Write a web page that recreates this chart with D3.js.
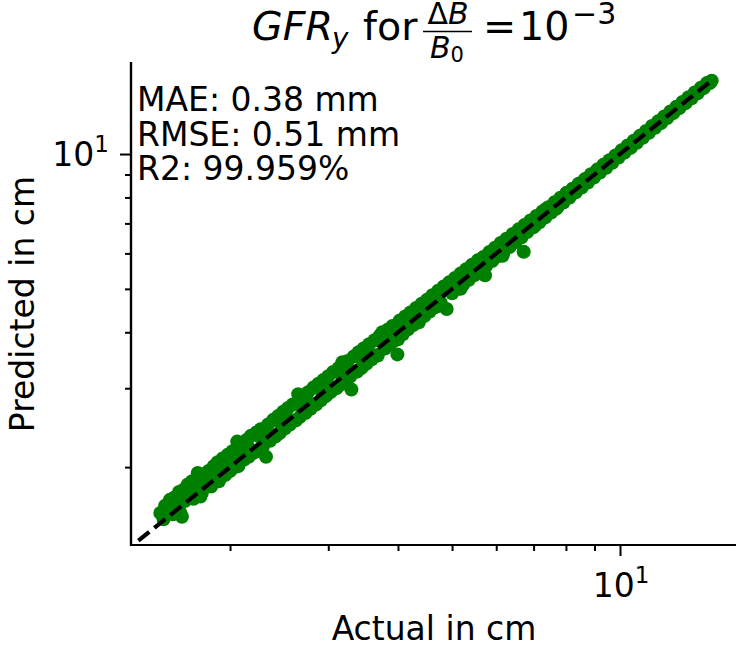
<!DOCTYPE html>
<html>
<head>
<meta charset="utf-8">
<script src="https://cdn.jsdelivr.net/npm/d3@7"></script>
<style>
  body { margin: 0; background: #fff; }
  svg { display: block; }
  text { font-family: "DejaVu Sans", sans-serif; fill: #000; }
</style>
</head>
<body>
<svg id="chart" width="736" height="646"></svg>
<script>
// Measured vs. predicted values (cm)
const actual = [
  1.50, 1.52, 1.53, 1.55, 1.56, 1.58, 1.59, 1.61, 1.62, 1.64, 1.65, 1.66, 1.68, 1.70, 1.71, 1.73,
  1.75, 1.76, 1.78, 1.80, 1.81, 1.83, 1.85, 1.87, 1.89, 1.90, 1.92, 1.94, 1.96, 1.98, 2.00, 2.02,
  2.04, 2.06, 2.08, 2.10, 2.12, 2.14, 2.16, 2.18, 2.20, 2.23, 2.25, 2.27, 2.29, 2.32, 2.34, 2.36,
  2.39, 2.41, 2.44, 2.46, 2.49, 2.51, 2.54, 2.56, 2.59, 2.62, 2.65, 2.67, 2.70, 2.73, 2.76, 2.79,
  2.82, 2.85, 2.88, 2.91, 2.94, 2.97, 3.00, 3.03, 3.06, 3.10, 3.13, 3.16, 3.18, 3.21, 3.25, 3.28,
  3.30, 3.33, 3.37, 3.40, 3.44, 3.47, 3.51, 3.55, 3.59, 3.63, 3.67, 3.71, 3.75, 3.79, 3.83, 3.87,
  3.91, 3.95, 3.99, 4.03, 4.08, 4.12, 4.17, 4.21, 4.26, 4.31, 4.36, 4.41, 4.46, 4.51, 4.56, 4.61,
  4.66, 4.72, 4.77, 4.83, 4.89, 4.94, 5.00, 5.06, 5.12, 5.18, 5.24, 5.30, 5.36, 5.43, 5.49, 5.56,
  5.62, 5.69, 5.73, 5.76, 5.83, 5.90, 5.97, 6.04, 6.11, 6.19, 6.26, 6.34, 6.42, 6.50, 6.58, 6.66,
  6.72, 6.74, 6.82, 6.91, 6.99, 7.08, 7.17, 7.26, 7.35, 7.44, 7.53, 7.63, 7.72, 7.82, 7.92, 8.02,
  8.12, 8.22, 8.33, 8.43, 8.54, 8.65, 8.76, 8.87, 8.98, 9.10, 9.21, 9.33, 9.45, 9.57, 9.69, 9.81,
  9.94, 10.06, 10.19, 10.32, 10.45, 10.58, 10.72, 10.85, 10.99, 11.13, 11.27, 11.41, 11.56, 11.70,
  11.85, 12.00, 12.15, 12.31, 12.46, 12.62, 12.78, 12.94, 13.11, 13.27, 13.44, 13.61, 13.78, 13.96,
  14.13, 14.31, 14.49, 14.60,
  1.54, 1.60, 1.67, 1.72, 1.79, 1.86, 1.93, 2.01, 2.09, 2.17, 2.26, 2.35, 2.45, 2.55, 2.66, 2.77,
  2.89, 3.01, 3.14, 3.27, 3.41, 3.56, 3.71, 3.87, 4.04, 4.22, 4.40, 4.59, 4.79, 5.00, 5.22, 5.45,
  5.69, 5.94, 6.20, 6.47, 6.75, 7.05, 7.36, 7.68, 8.02,
  1.57, 1.63, 1.69, 1.77, 1.84, 1.91, 1.99, 2.07, 2.15, 2.24, 2.33, 2.43, 2.52, 2.63, 2.74, 2.86,
  2.98, 3.11, 3.24, 3.38, 3.53, 3.68, 3.84, 4.00, 4.18, 4.36, 4.55, 4.75, 4.96, 5.18, 5.41, 5.65,
  5.90, 6.16, 6.43
];
const predicted = [
  1.58, 1.53, 1.64, 1.59, 1.69, 1.57, 1.71, 1.65, 1.76, 1.55, 1.78, 1.68, 1.83, 1.72, 1.86, 1.76,
  1.94, 1.87, 1.75, 1.93, 1.82, 1.96, 1.81, 2.01, 1.88, 2.05, 1.89, 2.09, 1.92, 2.13, 1.96, 2.17,
  2.00, 2.28, 2.06, 2.25, 2.08, 2.30, 2.11, 2.35, 2.15, 2.39, 2.19, 2.43, 2.22, 2.11, 2.49, 2.29,
  2.55, 2.34, 2.60, 2.39, 2.66, 2.44, 2.71, 2.49, 2.76, 2.54, 2.91, 2.59, 2.88, 2.64, 2.94, 2.70,
  3.01, 2.76, 3.07, 2.82, 3.13, 2.88, 3.19, 2.94, 3.26, 3.00, 3.33, 3.06, 3.43, 3.12, 3.45, 3.18,
  2.98, 3.53, 3.27, 3.61, 3.33, 3.68, 3.40, 3.76, 3.48, 3.84, 3.56, 3.93, 4.00, 3.68, 4.05, 3.76,
  4.13, 3.84, 3.57, 4.25, 3.96, 4.34, 4.06, 4.43, 4.15, 4.53, 4.25, 4.63, 4.35, 4.73, 4.45, 4.84,
  4.55, 4.95, 4.66, 5.06, 4.51, 5.17, 4.89, 5.29, 5.00, 5.41, 5.12, 5.53, 5.24, 5.66, 5.37, 5.79,
  5.50, 5.89, 5.36, 5.64, 6.04, 5.77, 6.18, 5.91, 6.33, 6.05, 6.47, 6.20, 6.63, 6.36, 6.79, 6.52,
  6.05, 6.94, 6.70, 7.11, 6.86, 7.27, 7.04, 7.44, 7.22, 7.61, 7.40, 7.80, 7.59, 7.99, 7.79, 8.19,
  8.00, 8.37, 8.21, 8.58, 8.42, 8.79, 8.64, 9.01, 8.86, 9.23, 9.09, 9.46, 9.32, 9.69, 9.56, 9.93,
  9.82, 10.19, 10.07, 10.45, 10.32, 10.71, 10.60, 10.98, 10.87, 11.26, 11.15, 11.55, 11.44, 11.83,
  11.73, 12.13, 12.03, 12.44, 12.34, 12.75, 12.66, 13.07, 12.99, 13.39, 13.32, 13.72, 13.66, 14.06,
  14.03, 14.40, 14.40, 14.58,
  1.59, 1.58, 1.73, 1.70, 1.86, 1.84, 2.00, 1.99, 2.17, 2.14, 2.34, 2.32, 2.53, 2.52, 2.76, 2.74,
  2.99, 2.97, 3.25, 3.23, 3.53, 3.51, 3.84, 3.81, 4.17, 4.16, 4.55, 4.53, 4.94, 4.93, 5.38, 5.37,
  5.86, 5.85, 6.37, 6.36, 6.92, 6.93, 7.53, 7.55, 8.18,
  1.66, 1.58, 1.77, 1.72, 1.92, 1.86, 2.06, 2.01, 2.23, 2.17, 2.41, 2.36, 2.60, 2.55, 2.82, 2.77,
  3.07, 3.01, 3.33, 3.27, 3.61, 3.55, 3.92, 3.86, 4.26, 4.21, 4.62, 4.59, 5.01, 5.00, 5.44, 5.45,
  5.90, 5.93, 6.38
];
// Identity reference line (y = x)
const refLine = [1.37, 14.5];
// Axis ticks
const majorTicks = [10];
const minorTicks = [2, 3, 4, 5, 6, 7, 8, 9];
const tickBase = "10";
const tickExp = "1";
// Text
const xLabel = "Actual in cm";
const yLabel = "Predicted in cm";
const stats = ["MAE: 0.38 mm", "RMSE: 0.51 mm", "R2: 99.959%"];

const svg = d3.select("#chart");
const plot = { left: 131, right: 736, top: 62, bottom: 545 };
const FS = 33;        // label font size
const TFS = 39.6;     // title font size

const x = d3.scaleLog().domain([1.329, 16.14]).range([plot.left, plot.right]);
const y = d3.scaleLog().domain([1.340, 16.05]).range([plot.bottom, plot.top]);

function txt(parent, px, py, str, size, opts = {}) {
  const t = parent.append("text")
    .attr("x", px).attr("y", py)
    .attr("font-size", size)
    .attr("text-anchor", opts.anchor || "start");
  if (opts.italic) t.attr("font-style", "italic");
  if (str) t.text(str);
  return t;
}

// Points
const pts = actual.map((a, i) => [a, predicted[i]]);
svg.append("g").selectAll("circle").data(pts).join("circle")
  .attr("cx", d => x(d[0]))
  .attr("cy", d => y(d[1]))
  .attr("r", 7)
  .attr("fill", "#008000");

// Dashed identity line
svg.append("line")
  .attr("x1", x(refLine[0])).attr("y1", y(refLine[0]))
  .attr("x2", x(refLine[1])).attr("y2", y(refLine[1]))
  .attr("stroke", "#000").attr("stroke-width", 4.2)
  .attr("stroke-dasharray", "14,6.5");

// Axes (left and bottom spines only)
function styleAxis(g) {
  g.selectAll("text").remove();
  g.select(".domain").attr("stroke", "#000").attr("stroke-width", 2.2);
  g.selectAll(".tick line").attr("stroke", "#000").attr("stroke-width", 2);
}
const gx = svg.append("g").attr("transform", `translate(0,${plot.bottom})`);
gx.append("g").call(d3.axisBottom(x).tickValues(minorTicks).tickSize(6).tickSizeOuter(0)).call(styleAxis);
gx.append("g").call(d3.axisBottom(x).tickValues(majorTicks).tickSize(11).tickSizeOuter(0)).call(styleAxis);
const gy = svg.append("g").attr("transform", `translate(${plot.left},0)`);
gy.append("g").call(d3.axisLeft(y).tickValues(minorTicks).tickSize(6).tickSizeOuter(0)).call(styleAxis);
gy.append("g").call(d3.axisLeft(y).tickValues(majorTicks).tickSize(11).tickSizeOuter(0)).call(styleAxis);
gx.selectAll(".domain").attr("d", `M${plot.left - 1},0H${plot.right}`);
gy.selectAll(".domain").attr("d", `M0,${plot.top}V${plot.bottom + 1}`);

// Tick labels 10^1
majorTicks.forEach(v => {
  const tx = txt(svg, x(v) + 1, 597, "", FS, { anchor: "middle" });
  tx.append("tspan").text(tickBase);
  tx.append("tspan").attr("font-size", 23).attr("dy", -14).text(tickExp);
  const ty = txt(svg, 109, y(v) + 12, "", FS, { anchor: "end" });
  ty.append("tspan").text(tickBase);
  ty.append("tspan").attr("font-size", 23).attr("dy", -14).text(tickExp);
});

// Axis labels
txt(svg, 434, 640, xLabel, FS, { anchor: "middle" });
svg.append("text")
  .attr("transform", "translate(34,304) rotate(-90)")
  .attr("font-size", FS)
  .attr("text-anchor", "middle")
  .text(yLabel);

// Error metrics
stats.forEach((s, i) => txt(svg, 137, 111 + i * 34.5, s, FS));

// Title: GFR_y for ΔB/B0 = 10^-3
const tg = svg.append("g");
txt(tg, 252, 40, "GFR", TFS, { italic: true });
txt(tg, 332, 48, "y", 27.7, { italic: true });
txt(tg, 363, 40, "for", TFS);
const num = txt(tg, 448, 24, "", 30, { anchor: "middle" });
num.append("tspan").text("Δ");
num.append("tspan").attr("font-style", "italic").text("B");
tg.append("line").attr("x1", 423).attr("x2", 472).attr("y1", 31.5).attr("y2", 31.5)
  .attr("stroke", "#000").attr("stroke-width", 1.6);
const den = txt(tg, 447, 58, "", 30, { anchor: "middle" });
den.append("tspan").attr("font-style", "italic").text("B");
den.append("tspan").attr("font-size", 21).attr("dy", 4).text("0");
txt(tg, 483, 40, "=", TFS);
txt(tg, 519, 40, "10", TFS);
txt(tg, 572, 24, "−3", 30);
</script>
</body>
</html>
